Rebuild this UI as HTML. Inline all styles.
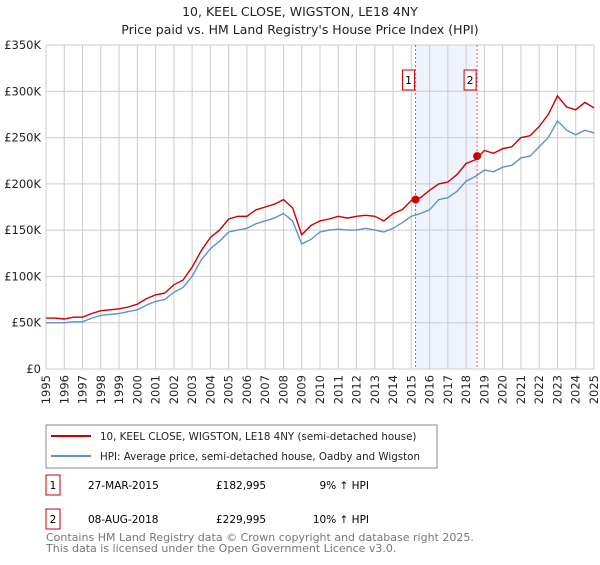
<!DOCTYPE html>
<html><head><meta charset="utf-8"><style>
body{margin:0;background:#fff;font-family:"Liberation Sans","DejaVu Sans",sans-serif;}
svg text{font-family:"DejaVu Sans","Liberation Sans",sans-serif;}
</style></head><body>
<svg id="c" width="600" height="560" xmlns="http://www.w3.org/2000/svg">
<text x="300" y="16" text-anchor="middle" font-size="12.5" fill="#222">10, KEEL CLOSE, WIGSTON, LE18 4NY</text>
<text x="300" y="34" text-anchor="middle" font-size="12.5" fill="#222">Price paid vs. HM Land Registry's House Price Index (HPI)</text>
<g id="grid"></g><g id="marks"></g>
<rect x="46" y="425" width="391" height="43" fill="#fff" stroke="#888"/>
<line x1="51" y1="436" x2="91" y2="436" stroke="#cc0000" stroke-width="2"/>
<text x="100" y="440" font-size="10.3" fill="#222">10, KEEL CLOSE, WIGSTON, LE18 4NY (semi-detached house)</text>
<line x1="51" y1="456" x2="91" y2="456" stroke="#6190d0" stroke-width="2"/>
<text x="100" y="460" font-size="10.3" fill="#222">HPI: Average price, semi-detached house, Oadby and Wigston</text>
<g>
<rect x="46" y="475" width="14" height="20" fill="#fff" stroke="#cc0000"/>
<text x="53" y="489" text-anchor="middle" font-size="10.5">1</text>
<text x="88" y="489" font-size="10.5">27-MAR-2015</text>
<text x="216" y="489" font-size="10.5">£182,995</text>
<text x="369" y="489" text-anchor="end" font-size="10.5">9% ↑ HPI</text></g>
<g>
<rect x="46" y="509" width="14" height="20" fill="#fff" stroke="#cc0000"/>
<text x="53" y="523" text-anchor="middle" font-size="10.5">2</text>
<text x="88" y="523" font-size="10.5">08-AUG-2018</text>
<text x="216" y="523" font-size="10.5">£229,995</text>
<text x="369" y="523" text-anchor="end" font-size="10.5">10% ↑ HPI</text></g>
<text x="46" y="541" font-size="11" fill="#777">Contains HM Land Registry data © Crown copyright and database right 2025.</text>
<text x="46" y="552" font-size="11" fill="#777">This data is licensed under the Open Government Licence v3.0.</text>
</svg>
<script>
const yTicks=[0,50000,100000,150000,200000,250000,300000,350000];
const yLabels=["£0","£50K","£100K","£150K","£200K","£250K","£300K","£350K"];
const years=[1995,1996,1997,1998,1999,2000,2001,2002,2003,2004,2005,2006,2007,2008,2009,2010,2011,2012,2013,2014,2015,2016,2017,2018,2019,2020,2021,2022,2023,2024,2025];
const hpi=[50,50,50,51,51,55,58,59,60,62,64,69,73,75,83,88,100,118,130,138,148,150,152,157,160,163,168,160,135,140,148,150,151,150,150,152,150,148,152,158,165,168,172,183,185,192,203,208,215,213,218,220,228,230,240,250,268,258,253,258,255];
const prop=[55,55,54,56,56,60,63,64,65,67,70,76,80,82,91,96,110,128,142,150,162,165,165,172,175,178,183,174,145,155,160,162,165,163,165,166,165,160,168,172,182,185,193,200,202,210,222,226,236,233,238,240,250,252,262,275,295,283,280,288,282];
const saleDates=[2015.23,2018.6];
const salePrices=[182995,229995];
const saleLabels=["1","2"];
const X0=46,X1=594,Y0=369,Y1=45;
const xs=t=>X0+(t-1995)/30*(X1-X0);
const ys=v=>Y0-v/350000*(Y0-Y1);
const NS="http://www.w3.org/2000/svg";
const g=document.getElementById('grid'),m=document.getElementById('marks');
function mk(p,tag,a){const e=document.createElementNS(NS,tag);for(const k in a)e.setAttribute(k,a[k]);p.appendChild(e);return e;}
const band=mk(g,'rect',{x:xs(saleDates[0]),y:Y1,width:xs(saleDates[1])-xs(saleDates[0]),height:Y0-Y1,fill:'#eef3fc'});


yTicks.forEach((v,i)=>{const l=mk(g,'line',{x1:X0,x2:X1,y1:ys(v),y2:ys(v),stroke:'#ccc'});


const t=mk(g,'text',{x:X0-5,y:ys(v)+4,'text-anchor':'end','font-size':'11.5',fill:'#222'});t.textContent=yLabels[i];

});
years.forEach(y=>{const l=mk(g,'line',{x1:xs(y),x2:xs(y),y1:Y1,y2:Y0,stroke:'#ccc'});


const t=mk(g,'text',{x:0,y:0,'text-anchor':'end','font-size':'11.5',fill:'#222',transform:`translate(${xs(y)+4},${Y0+6}) rotate(-90)`});t.textContent=y;

});
function series(arr,col,name){const pts=arr.map((v,i)=>xs(1995+i*0.5).toFixed(1)+','+ys(v*1000).toFixed(1)).join(' ');
const p=mk(m,'polyline',{points:pts,fill:'none',stroke:col,'stroke-width':1.4});

}
series(hpi,'#6190d0','hpi-line');
series(prop,'#cc0000','property-price-line');
saleDates.forEach((d,i)=>{const l=mk(m,'line',{x1:xs(d),x2:xs(d),y1:Y1,y2:Y0,stroke:'#e55','stroke-dasharray':'2,2'});


const c=mk(m,'circle',{cx:xs(d),cy:ys(salePrices[i]),r:4,fill:'#cc0000'});


const b=mk(m,'rect',{x:xs(d)-13,y:70,width:12,height:20,fill:'#fff',stroke:'#cc0000'});


const t=mk(m,'text',{x:xs(d)-7,y:84,'text-anchor':'middle','font-size':'11'});t.textContent=saleLabels[i];

});
</script>
</body></html>
